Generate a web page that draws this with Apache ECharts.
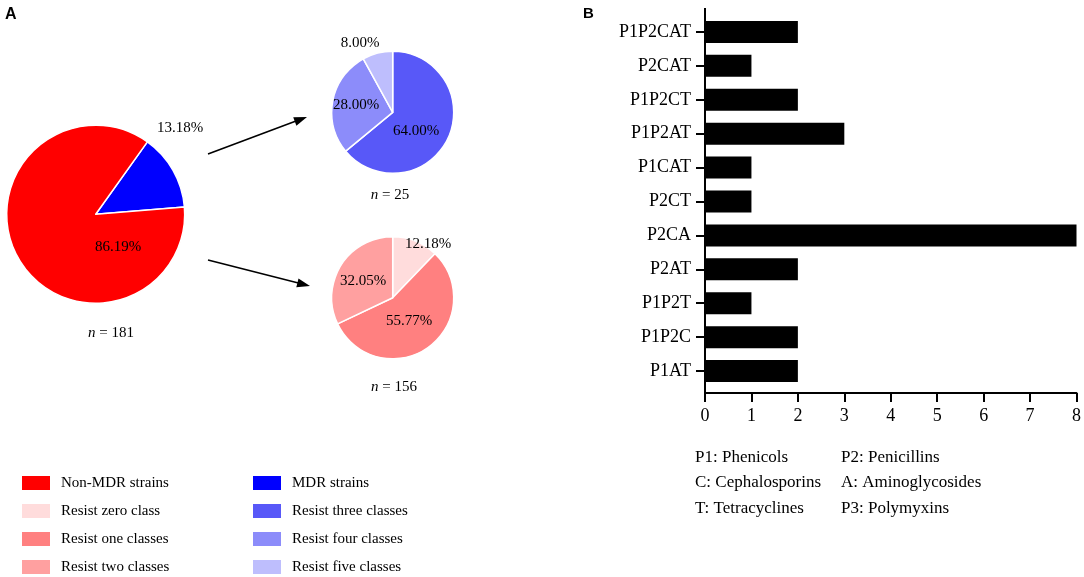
<!DOCTYPE html>
<html>

<head>
	<meta charset="utf-8">
	<title>MDR strains and resistance patterns</title>
	<script src="https://cdn.jsdelivr.net/npm/echarts@6/dist/echarts.min.js"></script>
	<style>
		body { margin: 0; background: #fff; }
	</style>
</head>

<body>
	<div id="main" style="width:1084px;height:577px;"></div>
	<script>
		// panel A: strain counts behind each pie
		var mainNames = ['MDR strains', 'Non-MDR strains'];
		var mainCounts = [25, 156];
		var mainLabels = ['13.18%', '86.19%'];

		var mdrNames = ['Resist three classes', 'Resist four classes', 'Resist five classes'];
		var mdrCounts = [16, 7, 2];
		var mdrLabels = ['64.00%', '28.00%', '8.00%'];

		var nonNames = ['Resist zero class', 'Resist one classes', 'Resist two classes'];
		var nonCounts = [19, 87, 50];
		var nonLabels = ['12.18%', '55.77%', '32.05%'];

		var nTexts = ['181', '25', '156'];

		// panel B: resistance patterns (bottom to top)
		var patterns = ['P1AT', 'P1P2C', 'P1P2T', 'P2AT', 'P2CA', 'P2CT', 'P1CAT', 'P1P2AT', 'P1P2CT', 'P2CAT', 'P1P2CAT'];
		var isolates = [2, 2, 1, 2, 8, 1, 1, 3, 2, 1, 2];

		var notesLeft = ['P1: Phenicols', 'C: Cephalosporins', 'T: Tetracyclines'];
		var notesRight = ['P2: Penicillins', 'A: Aminoglycosides', 'P3: Polymyxins'];

		var colors = {
			'Non-MDR strains': '#ff0000',
			'MDR strains': '#0000ff',
			'Resist zero class': '#ffdcdc',
			'Resist one classes': '#ff8080',
			'Resist two classes': '#ffa0a0',
			'Resist three classes': '#5858f8',
			'Resist four classes': '#8c8cfa',
			'Resist five classes': '#bebefd'
		};

		var serif = 'Liberation Serif, Times New Roman, serif';

		function pieData(names, counts, labels) {
			return names.map(function (n, i) {
				return {
					name: n,
					value: counts[i],
					label: { formatter: labels[i] },
					itemStyle: { color: colors[n] }
				};
			});
		}

		// label anchor points as drawn in the figure
		var mainSpots = [[180, 128], [118, 247]];
		var mdrSpots = [[416, 131], [356, 105], [360, 43]];
		var nonSpots = [[428, 244], [409, 321], [363, 281]];

		function makePie(center, r, start, data, spots) {
			return {
				type: 'pie',
				center: center,
				radius: r,
				startAngle: start,
				clockwise: true,
				silent: true,
				data: data,
				itemStyle: { borderColor: '#fff', borderWidth: 1.5 },
				label: {
					show: true,
					position: 'inside',
					color: '#000',
					fontFamily: serif,
					fontSize: 15
				},
				labelLine: { show: false },
				labelLayout: function (p) {
					var s = spots[p.dataIndex];
					if (!s) return {};
					return { x: s[0], y: s[1], align: 'center', verticalAlign: 'middle' };
				},
				emphasis: { disabled: true }
			};
		}

		function arrow(x1, y1, x2, y2) {
			var dx = x2 - x1, dy = y2 - y1;
			var len = Math.sqrt(dx * dx + dy * dy);
			var ux = dx / len, uy = dy / len;
			var bx = x2 - ux * 13, by = y2 - uy * 13;
			return [{
				type: 'line',
				shape: { x1: x1, y1: y1, x2: bx + ux * 2, y2: by + uy * 2 },
				style: { stroke: '#000', lineWidth: 1.6 }
			}, {
				type: 'polygon',
				shape: { points: [[x2, y2], [bx - uy * 4.5, by + ux * 4.5], [bx + uy * 4.5, by - ux * 4.5]] },
				style: { fill: '#000' }
			}];
		}

		function nText(x, y, num) {
			return {
				type: 'text',
				x: x, y: y,
				style: {
					text: '{i|n} = ' + num,
					align: 'center', verticalAlign: 'middle',
					font: '15px ' + serif,
					fill: '#000',
					rich: { i: { fontStyle: 'italic', fontFamily: serif, fontSize: 15 } }
				}
			};
		}

		function plain(x, y, t, size) {
			return {
				type: 'text', x: x, y: y,
				style: { text: t, font: size + 'px ' + serif, fill: '#000', verticalAlign: 'middle' }
			};
		}

		var graphics = [
			{ type: 'text', x: 5, y: 15, style: { text: 'A', font: 'bold 16px Liberation Sans, Arial', fill: '#000', verticalAlign: 'middle' } },
			{ type: 'text', x: 583, y: 14, style: { text: 'B', font: 'bold 15px Liberation Sans, Arial', fill: '#000', verticalAlign: 'middle' } },
			nText(111, 333, nTexts[0]),
			nText(390, 195, nTexts[1]),
			nText(394, 387, nTexts[2]),
			// y axis line of panel B, GraphPad style running past the bands
			{ type: 'line', shape: { x1: 705, y1: 8, x2: 705, y2: 394 }, style: { stroke: '#000', lineWidth: 2 } }
		];
		graphics = graphics.concat(arrow(208, 154, 307, 117), arrow(208, 260, 310, 286));
		for (var i = 0; i < notesLeft.length; i++) {
			var yy = [458, 483, 509][i];
			graphics.push(plain(695, yy, notesLeft[i], 17));
			graphics.push(plain(841, yy, notesRight[i], 17));
		}

		var legendText = { fontFamily: serif, fontSize: 15, color: '#000', padding: [0, 0, 0, 5] };

		var option = {
			animation: false,
			backgroundColor: '#fff',
			legend: [{
				orient: 'vertical',
				left: 20, top: 474, height: 103,
				padding: 0,
				itemWidth: 30, itemHeight: 16, itemGap: 10,
				selectedMode: false,
				icon: 'rect',
				data: ['Non-MDR strains', 'Resist zero class', 'Resist one classes', 'Resist two classes'],
				textStyle: legendText
			}, {
				orient: 'vertical',
				left: 251, top: 474, height: 103,
				padding: 0,
				itemWidth: 30, itemHeight: 16, itemGap: 10,
				selectedMode: false,
				icon: 'rect',
				data: ['MDR strains', 'Resist three classes', 'Resist four classes', 'Resist five classes'],
				textStyle: legendText
			}],
			grid: { left: 705, right: 6, top: 15, bottom: 189, containLabel: false },
			xAxis: {
				type: 'value',
				min: 0, max: 8, interval: 1,
				offset: 5,
				splitLine: { show: false },
				axisLine: { show: true, lineStyle: { color: '#000', width: 2 } },
				axisTick: { show: true, length: 9, lineStyle: { color: '#000', width: 2 } },
				axisLabel: { color: '#000', fontFamily: serif, fontSize: 18, margin: 14 }
			},
			yAxis: {
				type: 'category',
				data: patterns,
				axisLine: { show: false },
				axisTick: { show: true, alignWithLabel: true, length: 9, lineStyle: { color: '#000', width: 2 } },
				axisLabel: { color: '#000', fontFamily: serif, fontSize: 18, margin: 14 }
			},
			series: [
				{
					type: 'bar',
					data: isolates,
					barWidth: 22,
					silent: true,
					itemStyle: { color: '#000' }
				},
				makePie([95.7, 214.3], 89, 54.5, pieData(mainNames, mainCounts, mainLabels), mainSpots),
				makePie([392.7, 112.3], 61, 90, pieData(mdrNames, mdrCounts, mdrLabels), mdrSpots),
				makePie([392.7, 297.7], 61, 90, pieData(nonNames, nonCounts, nonLabels), nonSpots)
			],
			graphic: graphics
		};

		var chart = echarts.init(document.getElementById('main'));
		chart.setOption(option);
	</script>
</body>

</html>
